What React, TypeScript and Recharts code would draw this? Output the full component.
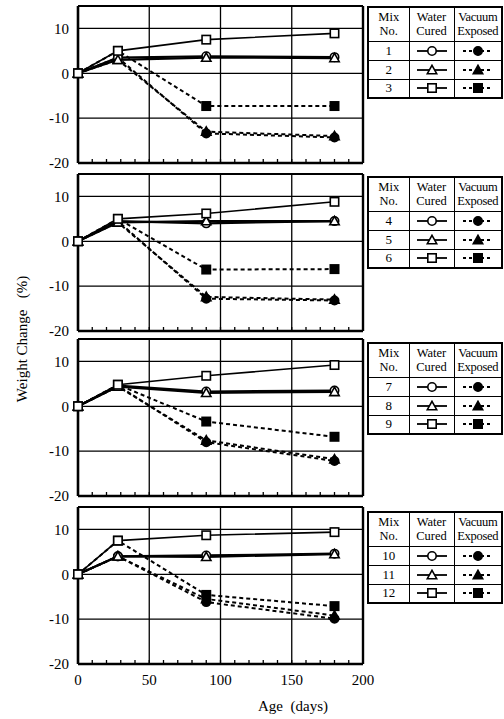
import React from 'react';
import { LineChart, Line, XAxis, YAxis, CartesianGrid, ReferenceLine } from 'recharts';

const FONT = '"Liberation Serif", "Times New Roman", serif';

// ages where the specimens were weighed (days)
const AGES = [0, 28, 90, 180];
const X_TICKS = [0, 10, 20, 30, 40, 50, 60, 70, 80, 90, 100, 110, 120, 130, 140, 150, 160, 170, 180, 190, 200];
const Y_TICKS = [-20, -10, 0, 10];
const SHAPES = ['circle', 'triangle', 'square'];

// mix numbers per panel
const PANEL_MIXES = [[1, 2, 3], [4, 5, 6], [7, 8, 9], [10, 11, 12]];

// weight change (%) - water cured (open markers), one row per mix
const WATER_1 = [[0, 3.5, 3.8, 3.6], [0, 3.0, 3.5, 3.4], [0, 5.0, 7.5, 8.9]];
const WATER_2 = [[0, 4.5, 4.0, 4.5], [0, 4.2, 4.5, 4.5], [0, 5.0, 6.2, 8.8]];
const WATER_3 = [[0, 4.6, 3.3, 3.5], [0, 4.4, 3.0, 3.2], [0, 4.8, 6.8, 9.2]];
const WATER_4 = [[0, 4.0, 4.2, 4.6], [0, 4.0, 3.9, 4.5], [0, 7.5, 8.7, 9.4]];

// weight change (%) - vacuum exposed (filled markers)
const VACUUM_1 = [[0, 3.5, -13.4, -14.3], [0, 3.0, -13.0, -14.0], [0, 5.0, -7.3, -7.3]];
const VACUUM_2 = [[0, 4.5, -12.8, -13.2], [0, 4.2, -12.4, -13.0], [0, 5.0, -6.3, -6.2]];
const VACUUM_3 = [[0, 4.6, -8.0, -12.2], [0, 4.4, -7.6, -11.8], [0, 4.8, -3.4, -6.8]];
const VACUUM_4 = [[0, 4.0, -6.2, -9.9], [0, 4.0, -5.5, -9.2], [0, 7.5, -4.6, -7.1]];

const PANEL_TOPS = [6, 174, 339, 507];
const TABLE_TOPS = [6, 176, 342, 511];
const PLOT_H = 157;

const Marker = ({ cx, cy, shape, filled }: any) => {
  if (cx == null || cy == null) return null;
  const fill = filled ? '#000' : '#fff';
  const s = 4.2;
  if (shape === 'circle') return <circle cx={cx} cy={cy} r={s} fill={fill} stroke="#000" strokeWidth={1.6} />;
  if (shape === 'square') return <rect x={cx - s} y={cy - s} width={s * 2} height={s * 2} fill={fill} stroke="#000" strokeWidth={1.6} />;
  return (
    <polygon
      points={`${cx},${cy - s - 0.5} ${cx + s + 0.5},${cy + s - 0.5} ${cx - s - 0.5},${cy + s - 0.5}`}
      fill={fill}
      stroke="#000"
      strokeWidth={1.6}
    />
  );
};

const renderXTick = (p: any, showLabel: boolean) => {
  const v = p.payload.value;
  return (
    <g key={`xt-${v}`}>
      {v > 0 && v < 200 && <line x1={p.x} y1={p.y} x2={p.x} y2={p.y - 4} stroke="#000" strokeWidth={1.3} />}
      {showLabel && v % 50 === 0 && (
        <text x={p.x} y={p.y + 21} textAnchor="middle" fontSize={15} fontFamily={FONT} fill="#000">
          {v}
        </text>
      )}
    </g>
  );
};

const Panel = ({ top, water, vacuum, showLabels }: any) => {
  const data = AGES.map((age, i) => {
    const row: any = { age };
    water.forEach((s: number[], k: number) => { row[`w${k}`] = s[i]; });
    vacuum.forEach((s: number[], k: number) => { row[`v${k}`] = s[i]; });
    return row;
  });
  return (
    <div style={{ position: 'absolute', left: 0, top: top - 4 }}>
      <LineChart width={382} height={PLOT_H + 4 + 26} data={data} margin={{ top: 4, right: 19, left: 0, bottom: 0 }}>
        <CartesianGrid
          stroke="#000"
          strokeWidth={1.3}
          horizontalValues={[-15, -10, -5, 0, 5, 10]}
          verticalValues={[50, 100, 150]}
        />
        <ReferenceLine y={15} stroke="#000" strokeWidth={2.2} />
        <ReferenceLine x={200} stroke="#000" strokeWidth={2.4} />
        <XAxis
          dataKey="age"
          type="number"
          domain={[0, 200]}
          ticks={X_TICKS}
          interval={0}
          height={26}
          tickSize={0}
          tickMargin={0}
          tickLine={false}
          axisLine={{ stroke: '#000', strokeWidth: 2.6 }}
          tick={(p: any) => renderXTick(p, showLabels)}
        />
        <YAxis
          type="number"
          domain={[-20, 15]}
          ticks={Y_TICKS}
          width={78}
          tickSize={0}
          tickMargin={9}
          tickLine={false}
          axisLine={{ stroke: '#000', strokeWidth: 2.6 }}
          tick={{ fill: '#000', fontSize: 15, fontFamily: FONT }}
        />
        {vacuum.map((_: number[], k: number) => (
          <Line
            key={`v${k}`}
            dataKey={`v${k}`}
            type="linear"
            stroke="#000"
            strokeWidth={2}
            strokeDasharray="4 3"
            isAnimationActive={false}
            dot={(p: any) => <Marker key={`v${k}-${p.index}`} cx={p.cx} cy={p.cy} shape={SHAPES[k]} filled />}
          />
        ))}
        {water.map((_: number[], k: number) => (
          <Line
            key={`w${k}`}
            dataKey={`w${k}`}
            type="linear"
            stroke="#000"
            strokeWidth={k === 2 ? 1.6 : 2.2}
            isAnimationActive={false}
            dot={(p: any) => <Marker key={`w${k}-${p.index}`} cx={p.cx} cy={p.cy} shape={SHAPES[k]} filled={false} />}
          />
        ))}
      </LineChart>
    </div>
  );
};

const LegendSymbol = ({ shape, filled }: any) => (
  <svg width={34} height={12} style={{ display: 'block', margin: '0 auto' }}>
    <line x1={2} y1={6} x2={32} y2={6} stroke="#000" strokeWidth={1.8} strokeDasharray={filled ? '3 3' : undefined} />
    <Marker cx={17} cy={6} shape={shape} filled={filled} />
  </svg>
);

const cell: React.CSSProperties = { border: '1.5px solid #000', padding: 0, textAlign: 'center' };

const LegendTable = ({ top, mixes }: any) => (
  <table
    style={{
      position: 'absolute', left: 367, top, width: 134, borderCollapse: 'collapse',
      border: '2px solid #000', fontFamily: FONT, fontSize: 12.5, color: '#000', tableLayout: 'fixed',
      background: '#fff',
    }}
  >
    <colgroup>
      <col style={{ width: 41 }} />
      <col style={{ width: 45 }} />
      <col style={{ width: 48 }} />
    </colgroup>
    <tbody>
      <tr style={{ height: 34 }}>
        <td style={{ ...cell, lineHeight: '14px' }}>Mix<br />No.</td>
        <td style={{ ...cell, lineHeight: '14px' }}>Water<br />Cured</td>
        <td style={{ ...cell, lineHeight: '14px', letterSpacing: -0.3 }}>Vacuum<br />Exposed</td>
      </tr>
      {mixes.map((m: number, k: number) => (
        <tr key={m} style={{ height: 19 }}>
          <td style={{ ...cell, fontSize: 13 }}>{m}</td>
          <td style={cell}><LegendSymbol shape={SHAPES[k]} filled={false} /></td>
          <td style={cell}><LegendSymbol shape={SHAPES[k]} filled /></td>
        </tr>
      ))}
    </tbody>
  </table>
);

const WATER = [WATER_1, WATER_2, WATER_3, WATER_4];
const VACUUM = [VACUUM_1, VACUUM_2, VACUUM_3, VACUUM_4];

export default function App() {
  return (
    <div style={{ position: 'absolute', left: 0, top: 0, width: 504, height: 719, background: '#fff', fontFamily: FONT }}>
      {PANEL_MIXES.map((mixes, i) => (
        <Panel key={i} top={PANEL_TOPS[i]} water={WATER[i]} vacuum={VACUUM[i]} showLabels={i === 3} />
      ))}
      {PANEL_MIXES.map((mixes, i) => (
        <LegendTable key={`t${i}`} top={TABLE_TOPS[i]} mixes={mixes} />
      ))}
      <div
        style={{
          position: 'absolute', left: 22, top: 339, transform: 'translate(-50%, -50%) rotate(-90deg)',
          whiteSpace: 'pre', fontSize: 15, color: '#000',
        }}
      >
        {'Weight Change   (%)'}
      </div>
      <div
        style={{
          position: 'absolute', left: 293, top: 706, transform: 'translate(-50%, -50%)',
          whiteSpace: 'pre', fontSize: 15, color: '#000',
        }}
      >
        {'Age  (days)'}
      </div>
    </div>
  );
}
